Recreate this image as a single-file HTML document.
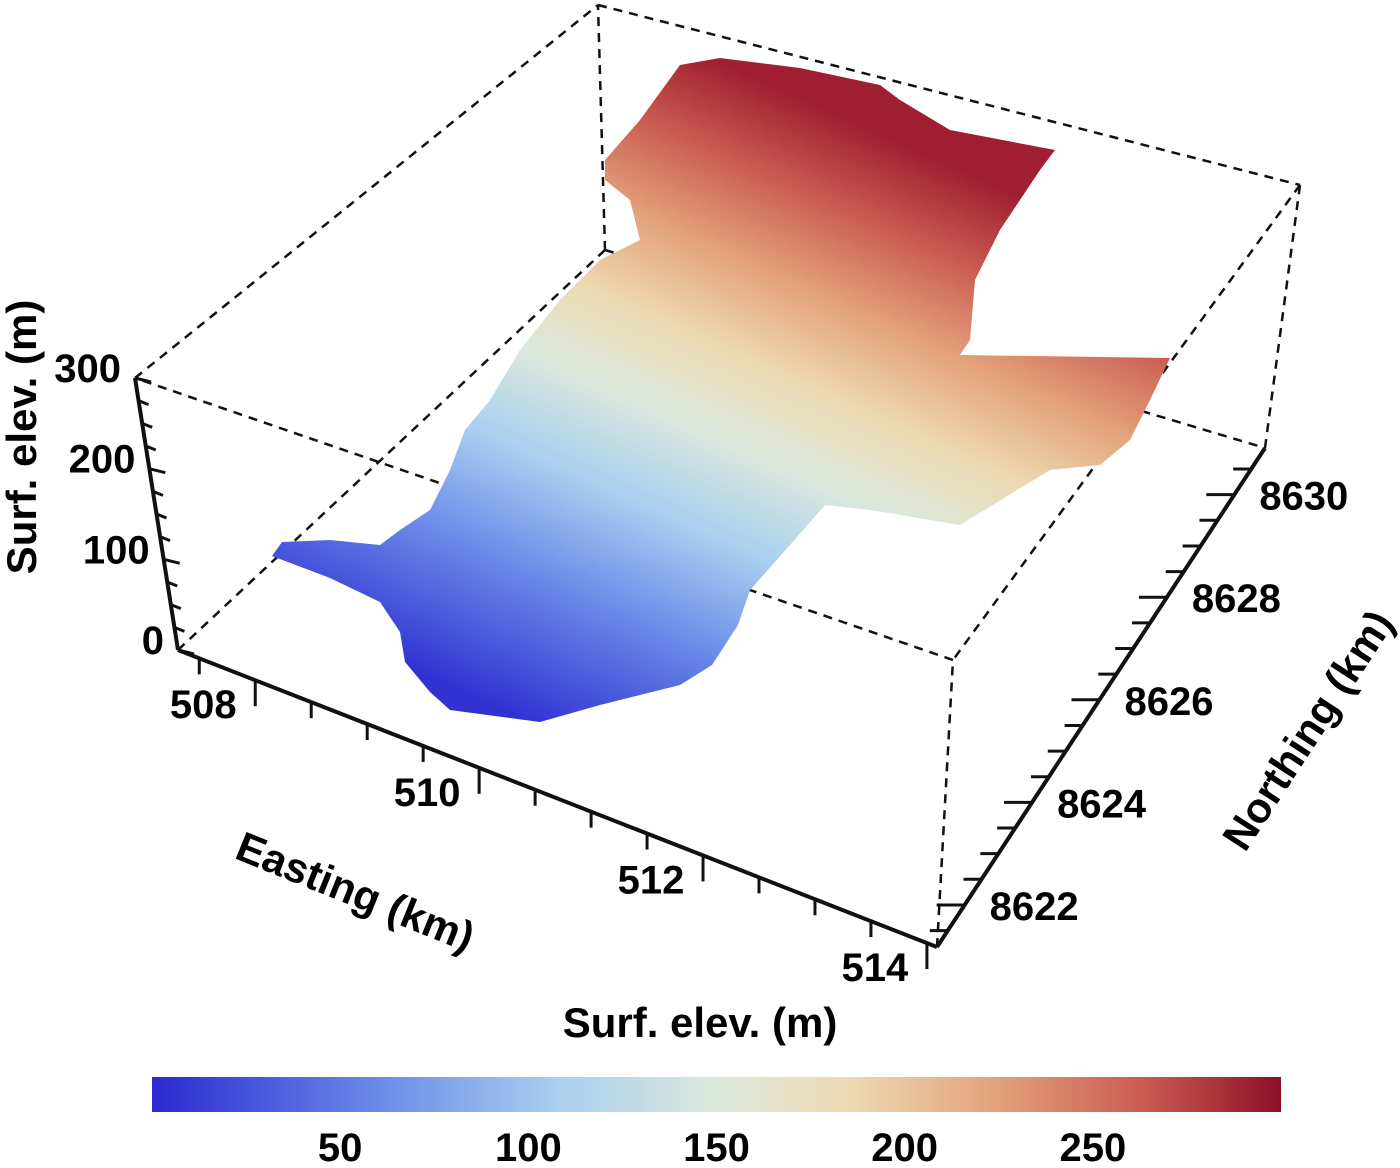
<!DOCTYPE html>
<html><head><meta charset="utf-8"><style>
body{margin:0;background:#fff}
svg{display:block;font-family:"Liberation Sans",sans-serif;font-weight:bold}
</style></head><body>
<svg id="chart" width="1400" height="1168" viewBox="0 0 1400 1168">
<defs>
<linearGradient id="cmapCloud" gradientUnits="userSpaceOnUse" x1="480" y1="700" x2="760" y2="80">
<stop offset="0" stop-color="#3232d2"/><stop offset="0.2" stop-color="#6a8ae8"/><stop offset="0.36" stop-color="#a9d0ef"/><stop offset="0.5" stop-color="#dce8dc"/><stop offset="0.62" stop-color="#edd9b0"/><stop offset="0.75" stop-color="#e3a07a"/><stop offset="0.88" stop-color="#c95a50"/><stop offset="1" stop-color="#a01e32"/>
</linearGradient>
<linearGradient id="cmapBar" x1="0" y1="0" x2="1" y2="0">
<stop offset="0" stop-color="#2a2ad0"/><stop offset="0.2" stop-color="#6a8ae8"/><stop offset="0.36" stop-color="#a9d0ef"/><stop offset="0.5" stop-color="#dce8dc"/><stop offset="0.62" stop-color="#edd9b0"/><stop offset="0.75" stop-color="#e3a07a"/><stop offset="0.88" stop-color="#c95a50"/><stop offset="1" stop-color="#8e1028"/>
</linearGradient>
</defs>
<g stroke="#111" stroke-width="2.5" stroke-dasharray="9,7" fill="none">
<line x1="135" y1="378" x2="598" y2="5"/>
<line x1="598" y1="5" x2="1300" y2="185"/>
<line x1="1300" y1="185" x2="953" y2="660"/>
<line x1="953" y1="660" x2="135" y2="378"/>
<line x1="178" y1="650" x2="605" y2="250"/>
<line x1="605" y1="250" x2="1265" y2="448"/>
<line x1="605" y1="250" x2="598" y2="5"/>
<line x1="1265" y1="448" x2="1300" y2="185"/>
<line x1="937" y1="947" x2="953" y2="660"/>
</g>
<path fill="url(#cmapCloud)" d="M605,160 L640,120 L680,65 L720,58 L800,68 L880,85 L900,100 L950,130 L1055,150 L1040,170 L1000,230 L975,280 L970,340 L960,355 L1170,358 L1150,400 L1130,440 L1100,465 L1050,470 L960,525 L870,510 L825,505 L790,545 L750,590 L738,625 L712,665 L680,685 L600,705 L540,722 L450,710 L430,692 L405,662 L400,632 L380,602 L330,578 L272,556 L282,542 L330,540 L380,545 L400,530 L430,510 L450,470 L465,430 L490,400 L520,350 L560,300 L600,260 L640,240 L630,200 L605,180 Z"/>
<g id="axes"></g>
<rect x="152" y="1077" width="1129" height="35" fill="url(#cmapBar)"/>
<g id="cbticks"></g>
<text font-size="42" text-anchor="middle" transform="translate(36,437) rotate(-90)">Surf. elev. (m)</text>
<text font-size="42" text-anchor="middle" transform="translate(350,905) rotate(22)">Easting (km)</text>
<text font-size="42" text-anchor="middle" transform="translate(1320,738) rotate(-57)">Northing (km)</text>
<text font-size="42" text-anchor="middle" x="700" y="1037">Surf. elev. (m)</text>
</svg>
<script>
const eastTicks=[508,510,512,514];
const northTicks=[8622,8624,8626,8628,8630];
const zTicks=[0,100,200,300];
const cbTicks=[50,100,150,200,250];
const eRange=[507.31,514.09], nRange=[8621.18,8630.91], zRange=[0,300], cRange=[0,300];
const NS="http://www.w3.org/2000/svg";
const axes=document.getElementById('axes');
function lerp(a,b,t){return [a[0]+(b[0]-a[0])*t,a[1]+(b[1]-a[1])*t];}
const O=[178,650], E1=[937,947], N1=[1265,448], Z1=[135,378];
function xE(v){return lerp(O,E1,(v-eRange[0])/(eRange[1]-eRange[0]));}
function xN(v){return lerp(E1,N1,(v-nRange[0])/(nRange[1]-nRange[0]));}
function xZ(v){return lerp(O,Z1,(v-zRange[0])/(zRange[1]-zRange[0]));}
function line(a,b,w,name){const l=document.createElementNS(NS,'line');l.setAttribute('x1',a[0]);l.setAttribute('y1',a[1]);l.setAttribute('x2',b[0]);l.setAttribute('y2',b[1]);l.setAttribute('stroke','#111');l.setAttribute('stroke-width',w);


axes.appendChild(l);}
function text(p,s,name,anchor){const t=document.createElementNS(NS,'text');t.setAttribute('x',p[0]);t.setAttribute('y',p[1]);t.setAttribute('font-size','40');t.setAttribute('text-anchor',anchor||'middle');t.textContent=s;


axes.appendChild(t);}
line(O,E1,4,'x-axis-line');line(E1,N1,4,'y-axis-line');line(O,Z1,4,'z-axis-line');
for(let v=Math.ceil(eRange[0]*2)/2;v<=eRange[1];v+=0.5){const p=xE(v);const maj=eastTicks.includes(v);line(p,[p[0],p[1]+(maj?26:16)],3,'x-tick');}
eastTicks.forEach(v=>{const p=xE(v);text([p[0]-52,p[1]+38],v,'x-tick-label');});
for(let v=Math.ceil(nRange[0]*2)/2;v<=nRange[1];v+=0.5){const p=xN(v);const maj=northTicks.includes(v);line(p,[p[0]-(maj?28:18),p[1]],3,'y-tick');}
northTicks.forEach(v=>{const p=xN(v);text([p[0]+25,p[1]+15],v,'y-tick-label','start');});
for(let v=0;v<=300;v+=25){const p=xZ(v);line(p,[p[0]+(zTicks.includes(v)?16:10),p[1]+4],3,'z-tick');}
zTicks.forEach(v=>{const p=xZ(v);text([p[0]-14,p[1]+4],v,'z-tick-label','end');});
const cb=document.getElementById('cbticks');
cbTicks.forEach(v=>{const x=152+(v-cRange[0])/(cRange[1]-cRange[0])*1129;
const t=document.createElementNS(NS,'text');t.setAttribute('x',x);t.setAttribute('y',1161);t.setAttribute('font-size','40');t.setAttribute('text-anchor','middle');t.textContent=v;


cb.appendChild(t);});
</script>
</body></html>
